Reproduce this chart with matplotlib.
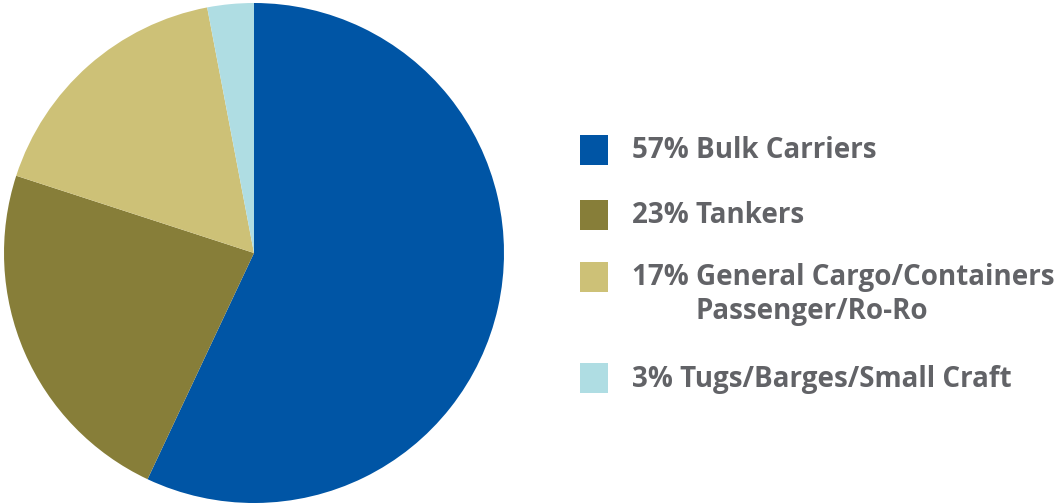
import matplotlib
matplotlib.use('Agg')
from matplotlib import pyplot as plt
from matplotlib.patches import Rectangle

shares = [57, 23, 17, 3]
labels = ['57% Bulk Carriers', '23% Tankers',
          '17% General Cargo/Containers\nPassenger/Ro-Ro',
          '3% Tugs/Barges/Small Craft']
colors = ['#0055A5', '#877E39', '#CDC177', '#AFDDE3']

W, H = 1063, 503
fig = plt.figure(figsize=(W / 100, H / 100), dpi=100)

# pie, clockwise from 12 o'clock
ax = fig.add_axes([4 / W, 0, 500 / W, 500 / H])
ax.pie(shares, colors=colors, startangle=90, counterclock=False,
       radius=1, wedgeprops=dict(linewidth=0))
ax.set_xlim(-1, 1)
ax.set_ylim(-1, 1)
ax.set_aspect('equal')
ax.axis('off')

# legend drawn by hand (square + bold grey text), in pixel coords from top
txt_color = '#626367'
font = dict(fontsize=20, fontweight='bold', family='Open Sans', color=txt_color,
            va='center', ha='left')
sq_tops = [135, 200, 262, 363]
for top, lab, col in zip(sq_tops, labels, colors):
    fig.patches.append(Rectangle((580 / W, 1 - (top + 30) / H), 28 / W, 30 / H,
                                 transform=fig.transFigure, color=col, lw=0))
    lines = lab.split('\n')
    cy = top + 15
    fig.text(632 / W, 1 - (cy + 1) / H, lines[0], **font)
    for k, extra in enumerate(lines[1:], start=1):
        fig.text(695 / W, 1 - (cy + 1 + 33 * k) / H, extra, **font)

fig.savefig('out.png', dpi=100)
